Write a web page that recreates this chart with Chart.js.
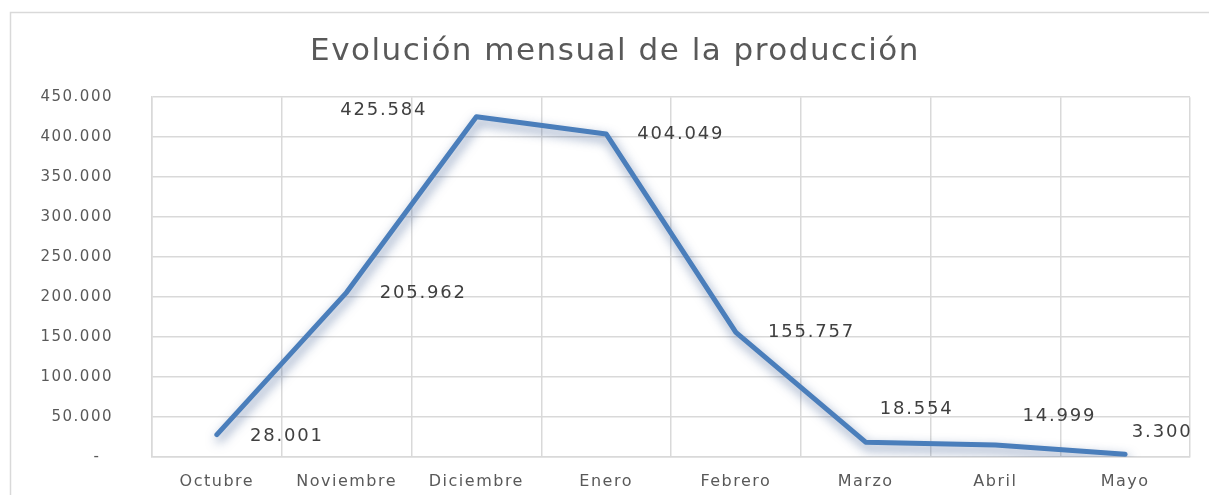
<!DOCTYPE html>
<html>
<head>
  <meta charset="utf-8">
  <title>Evolución mensual de la producción</title>
  <script src="https://cdn.jsdelivr.net/npm/chart.js@4.4.1/dist/chart.umd.min.js"></script>
  <style>
    body {
      margin: 0;
      background: #fff;
      overflow: hidden;
    }
    #chart {
      display: block;
    }
  </style>
</head>
<body>
  <canvas id="chart" width="1209" height="495"></canvas>

  <script>
    // data
    const months = ['Octubre', 'Noviembre', 'Diciembre', 'Enero', 'Febrero', 'Marzo', 'Abril', 'Mayo'];
    const production = [28001, 205962, 425584, 404049, 155757, 18554, 14999, 3300];
    const yMin = 0;
    const yMax = 450000;
    const yStep = 50000;

    // where each value label sits relative to its point
    const labelAlign = ['left', 'left', 'right', 'left', 'left', 'center', 'center', 'center'];
    const labelDx = [33, 33, -49, 31, 32, 51, 64, 37];
    const labelDy = [2, 1, -6, 0, 0, -33, -29, -22];

    const textGrey = '#595959';
    const gridGrey = '#d9d9d9';

    function formatThousands(v) {
      return String(v).replace(/\B(?=(\d{3})+(?!\d))/g, '.');
    }

    const excelLook = {
      id: 'excelLook',
      beforeDraw(chart) {
        const ctx = chart.ctx;
        ctx.letterSpacing = '1.5px';
        // chart frame
        ctx.save();
        ctx.strokeStyle = gridGrey;
        ctx.lineWidth = 1.5;
        ctx.strokeRect(10.5, 12.5, 1200, 500);
        ctx.restore();
      },
      beforeDatasetDraw(chart) {
        const ctx = chart.ctx;
        ctx.save();
        ctx.shadowColor = 'rgba(35, 70, 130, 0.6)';
        ctx.shadowBlur = 11;
        ctx.shadowOffsetX = 2;
        ctx.shadowOffsetY = 5;
      },
      afterDatasetDraw(chart) {
        chart.ctx.restore();
      },
      afterDatasetsDraw(chart) {
        const ctx = chart.ctx;
        const meta = chart.getDatasetMeta(0);
        ctx.save();
        ctx.font = '18px "DejaVu Sans"';
        ctx.letterSpacing = '1.8px';
        ctx.fillStyle = '#404040';
        ctx.textBaseline = 'middle';
        meta.data.forEach((pt, i) => {
          ctx.textAlign = labelAlign[i];
          ctx.fillText(formatThousands(production[i]), pt.x + labelDx[i], pt.y + labelDy[i]);
        });
        ctx.restore();
      }
    };

    new Chart(document.getElementById('chart'), {
      type: 'line',
      data: {
        labels: months,
        datasets: [{
          data: production,
          borderColor: '#4a7ebb',
          borderWidth: 5,
          borderCapStyle: 'round',
          borderJoinStyle: 'round',
          tension: 0,
          pointRadius: 0,
          pointHoverRadius: 0,
          fill: false
        }]
      },
      options: {
        responsive: false,
        animation: false,
        layout: {
          padding: { left: 40, right: 19, top: 0, bottom: 0 }
        },
        plugins: {
          legend: { display: false },
          tooltip: { enabled: false },
          title: {
            display: true,
            text: 'Evolución mensual de la producción',
            color: textGrey,
            font: { family: '"DejaVu Sans"', size: 31, weight: 'normal', lineHeight: 1.2 },
            padding: { top: 33, bottom: 27 }
          }
        },
        scales: {
          x: {
            offset: true,
            grid: { offset: true, color: gridGrey, lineWidth: 1.5, drawTicks: false },
            border: { color: gridGrey, width: 1.5 },
            ticks: {
              color: textGrey,
              font: { family: '"DejaVu Sans"', size: 16 },
              padding: 15,
              maxRotation: 0,
              autoSkip: false
            },
            afterFit(scale) { scale.height = 38; }
          },
          y: {
            min: yMin,
            max: yMax,
            grid: { color: gridGrey, lineWidth: 1.5, drawTicks: false },
            border: { color: gridGrey, width: 1.5 },
            ticks: {
              stepSize: yStep,
              color: textGrey,
              font: { family: '"DejaVu Sans"', size: 15 },
              padding: 39,
              callback: (v) => v === 0 ? '-  ' : formatThousands(v)
            },
            afterFit(scale) {
              scale.width = 112;
              scale.paddingTop = 0;
              scale.paddingBottom = 0;
            }
          }
        }
      },
      plugins: [excelLook]
    });
  </script>
</body>
</html>
